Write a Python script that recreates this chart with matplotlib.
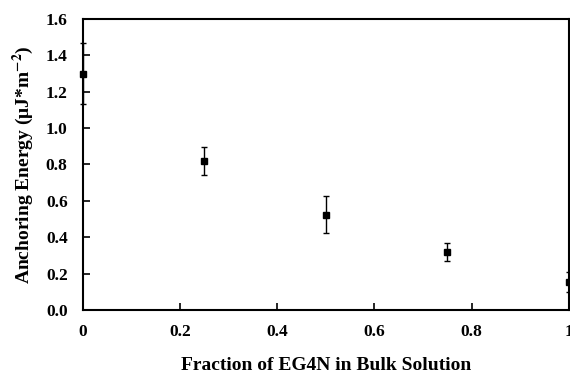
import numpy as np
import matplotlib.pyplot as plt

plt.rcParams['font.family'] = ['Liberation Serif', 'DejaVu Serif']
plt.rcParams['font.weight'] = 'bold'
plt.rcParams['mathtext.fontset'] = 'stix'
plt.rcParams['mathtext.default'] = 'bf'

# data
fraction = [0.0, 0.25, 0.5, 0.75, 1.0]
energy = [1.30, 0.82, 0.525, 0.32, 0.155]
energy_err = [0.17, 0.076, 0.10, 0.05, 0.055]

x_ticks = [0, 0.2, 0.4, 0.6, 0.8, 1.0]
x_ticklabels = ['0', '0.2', '0.4', '0.6', '0.8', '1']
y_ticks = np.arange(0, 1.61, 0.2)

fig = plt.figure(figsize=(5.7, 3.77), dpi=100)
ax = fig.add_axes([0.1456, 0.1777, 0.852, 0.772])

ax.errorbar(fraction, energy, yerr=energy_err, fmt='s', color='black',
            markersize=5, elinewidth=1, capsize=2.2, capthick=1, clip_on=False, zorder=3)

ax.set_xlim(0, 1)
ax.set_ylim(0, 1.6)
ax.set_xticks(x_ticks)
ax.set_xticklabels(x_ticklabels)
ax.set_yticks(y_ticks)
ax.set_yticklabels(['%.1f' % v for v in y_ticks])
ax.tick_params(direction='in', length=5, width=1.2, labelsize=12.5)
ax.tick_params(axis='x', pad=10)
ax.tick_params(axis='y', pad=11)
for s in ax.spines.values():
    s.set_linewidth(1.5)

ax.set_xlabel('Fraction of EG4N in Bulk Solution', fontsize=14, fontweight='bold', labelpad=12)
ax.set_ylabel('Anchoring Energy (\u03bcJ*m$^{-2}$)', fontsize=14, fontweight='bold', labelpad=7)

fig.savefig('out.png', dpi=100)
